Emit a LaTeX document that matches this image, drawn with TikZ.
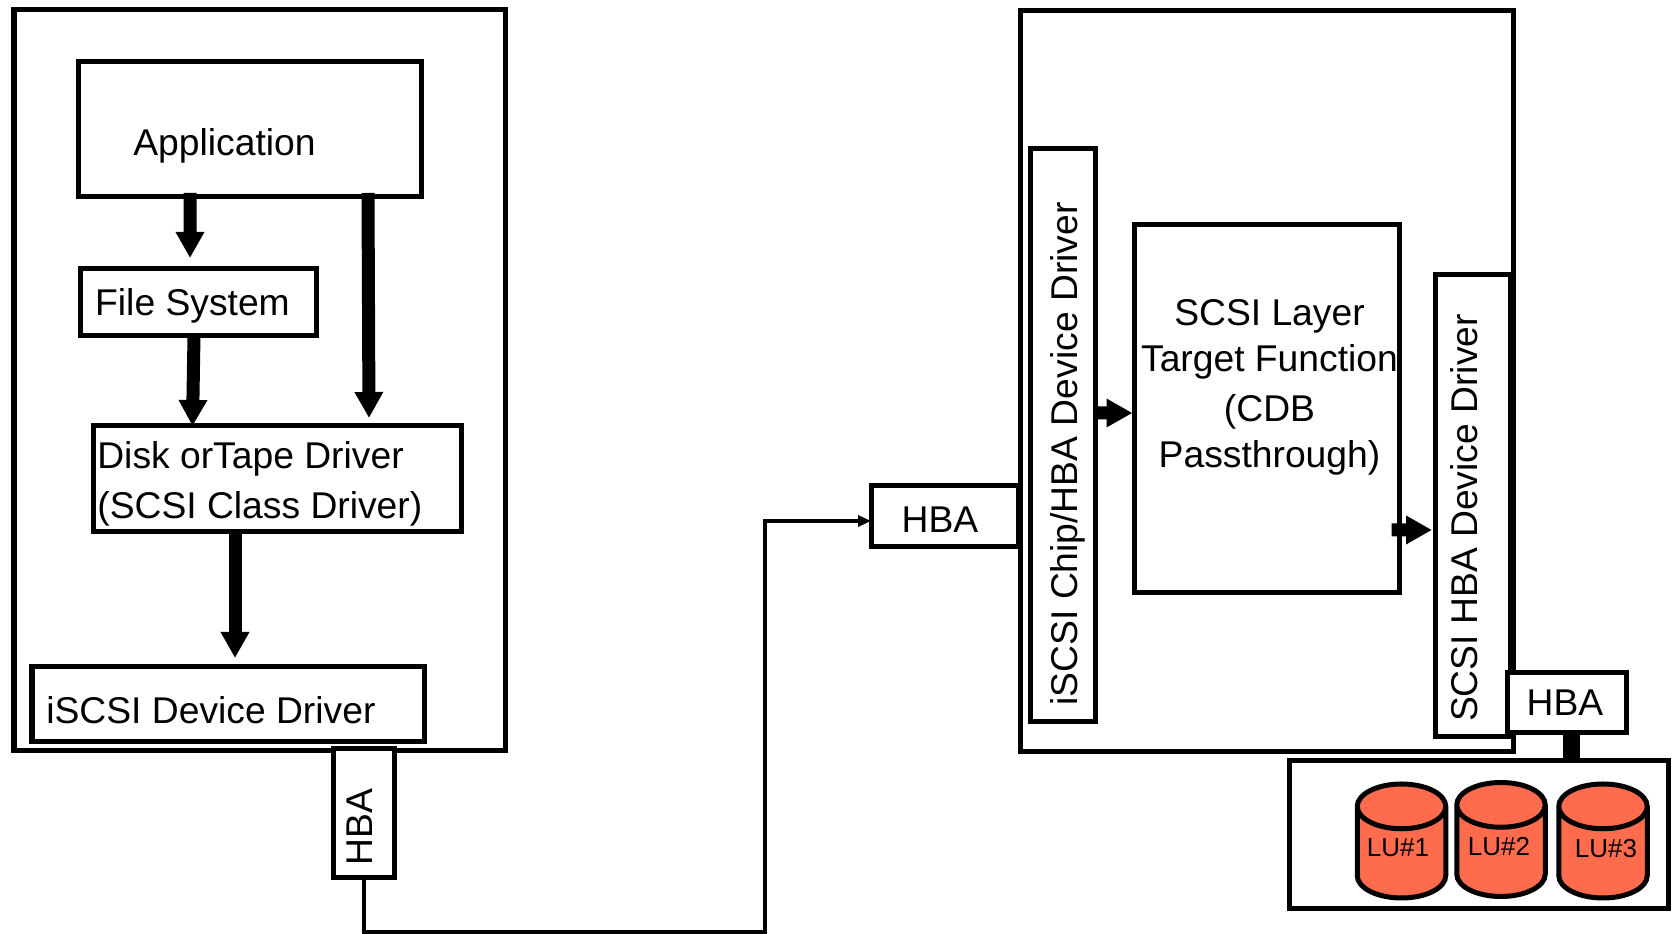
\documentclass[tikz,border=0pt]{standalone}
\usepackage{fontspec}
\setmainfont{Liberation Sans}
\usetikzlibrary{arrows.meta,shapes.geometric}
\definecolor{lucolor}{HTML}{FF6B4D}

\begin{document}
\begin{tikzpicture}[
        box/.style={rectangle, draw, line width=0.1cm, fill=white, outer sep=0pt, inner sep=0pt},
        txt/.style={font=\fontsize{21.2}{28.45}\selectfont, inner sep=0pt, align=left},
        lutxt/.style={font=\fontsize{14.8}{17}\selectfont, inner sep=0pt},
        arrow/.style={-{Triangle[length=0.52cm, width=0.54cm]}, line width=0.26cm},
        wire/.style={-{Triangle[length=0.26cm, width=0.22cm]}, line width=0.08cm},
        lu/.style={cylinder, shape border rotate=90, shape aspect=0.72, draw, line width=0.1cm, fill=lucolor, anchor=shape center,
            minimum width=1.77cm, minimum height=2.28cm, inner sep=0pt, outer sep=0pt, lutxt}
    ]
        \useasboundingbox (0,0) rectangle (33.44,18.68);

        % Left host
        \node[box, minimum width=9.82cm, minimum height=14.82cm] (hostl) at (5.19,11.07) {};
        \node[box, minimum width=6.86cm, minimum height=2.70cm] (appl) at (4.99,16.09) {};
        \node[box, minimum width=4.72cm, minimum height=1.34cm] (fsys) at (3.96,12.63) {};
        \node[box, minimum width=7.36cm, minimum height=2.12cm] (disk) at (5.54,9.10) {};
        \node[box, minimum width=7.84cm, minimum height=1.50cm] (idrv) at (4.56,4.59) {};
        \node[box, minimum width=1.22cm, minimum height=2.58cm] (hbal) at (7.27,2.41) {};

        % Right host
        \node[box, minimum width=2.94cm, minimum height=1.22cm] (hbar) at (18.89,8.35) {};
        \node[box, minimum width=9.86cm, minimum height=14.82cm] (hostr) at (25.33,11.05) {};
        \node[box, minimum width=1.30cm, minimum height=11.46cm] (chip) at (21.25,9.97) {};
        \node[box, minimum width=5.30cm, minimum height=7.36cm] (layer) at (25.34,10.50) {};
        \node[box, minimum width=1.50cm, minimum height=9.24cm] (sdrv) at (29.45,8.56) {};
        \node[box, minimum width=2.38cm, minimum height=1.20cm] (hbas) at (31.33,4.62) {};

        % Disks
        \node[box, minimum width=7.58cm, minimum height=2.96cm] (lubox) at (29.57,1.98) {};
        \node[lu] (luone) at (28.03,1.86) {\phantom{LU\#1}};
        \node[lu] (lutwo) at (30.02,1.89) {\phantom{LU\#2}};
        \node[lu] (luthree) at (32.06,1.86) {\phantom{LU\#3}};
        \node[lutxt] (luonelabel) at (27.96,1.72) {LU\#1};
        \node[lutxt] (lutwolabel) at (29.98,1.75) {LU\#2};
        \node[lutxt] (luthreelabel) at (32.12,1.70) {LU\#3};

        % Labels
        \node[txt] (applabel) at ([xshift=-0.5cm, yshift=-0.32cm]appl.center) {Application};
        \node[txt] (fsyslabel) at ([xshift=-0.11cm, yshift=-0.06cm]fsys.center) {File System};
        \node[txt, anchor=west] (disklabel) at ([xshift=0.08cm, yshift=-0.1cm]disk.west) {Disk orTape Driver\\(SCSI Class Driver)};
        \node[txt, anchor=west] (idrvlabel) at ([xshift=0.28cm, yshift=-0.11cm]idrv.west) {iSCSI Device Driver};
        \node[txt, rotate=90] (hballabel) at ([xshift=-0.07cm, yshift=-0.27cm]hbal.center) {HBA};
        \node[txt] (hbarlabel) at ([xshift=-0.09cm, yshift=-0.07cm]hbar.center) {HBA};
        \node[txt, rotate=90] (chiplabel) at ([xshift=0.11cm, yshift=-0.37cm]chip.center) {iSCSI Chip/HBA Device Driver};
        \node[txt, align=center, font=\fontsize{21.2}{26.2}\selectfont] (layerlabel) at ([xshift=0.05cm, yshift=0.44cm]layer.center) {SCSI Layer\\Target Function\\[0.08cm](CDB\\Passthrough)};
        \node[txt, rotate=90] (sdrvlabel) at ([xshift=-0.17cm, yshift=-0.24cm]sdrv.center) {SCSI HBA Device Driver};
        \node[txt] (hbaslabel) at ([xshift=-0.03cm]hbas.center) {HBA};

        % Arrows
        \draw[arrow] ([xshift=-1.19cm, yshift=0.08cm]appl.south) -- ([xshift=-0.16cm, yshift=0.22cm]fsys.north);
        \draw[arrow] ([xshift=-0.08cm]fsys.south) -- ([xshift=-1.69cm]disk.north);
        \draw[arrow] ([xshift=2.37cm, yshift=0.08cm]appl.south) -- ([xshift=1.84cm, yshift=0.16cm]disk.north);
        \draw[arrow] ([xshift=-0.84cm]disk.south) -- ([xshift=0.14cm, yshift=0.18cm]idrv.north);
        \draw[arrow] ([yshift=0.45cm]chip.east) -- ([xshift=-0.04cm, yshift=-0.08cm]layer.west);
        \draw[arrow] ([xshift=-0.16cm, yshift=-2.42cm]layer.east) -- ([xshift=-0.06cm, yshift=-0.48cm]sdrv.west);
        \draw[line width=0.34cm] ([xshift=0.1cm]hbas.south) -- ([xshift=0.1cm]hbas.south |- lubox.north);

        % Cable between the hosts
        \coordinate (wirelow) at (15.295,0.04);
        \draw[wire] (hbal.south) |- (wirelow) |- ([yshift=-0.09cm]hbar.west);
    \end{tikzpicture}
\end{document}
